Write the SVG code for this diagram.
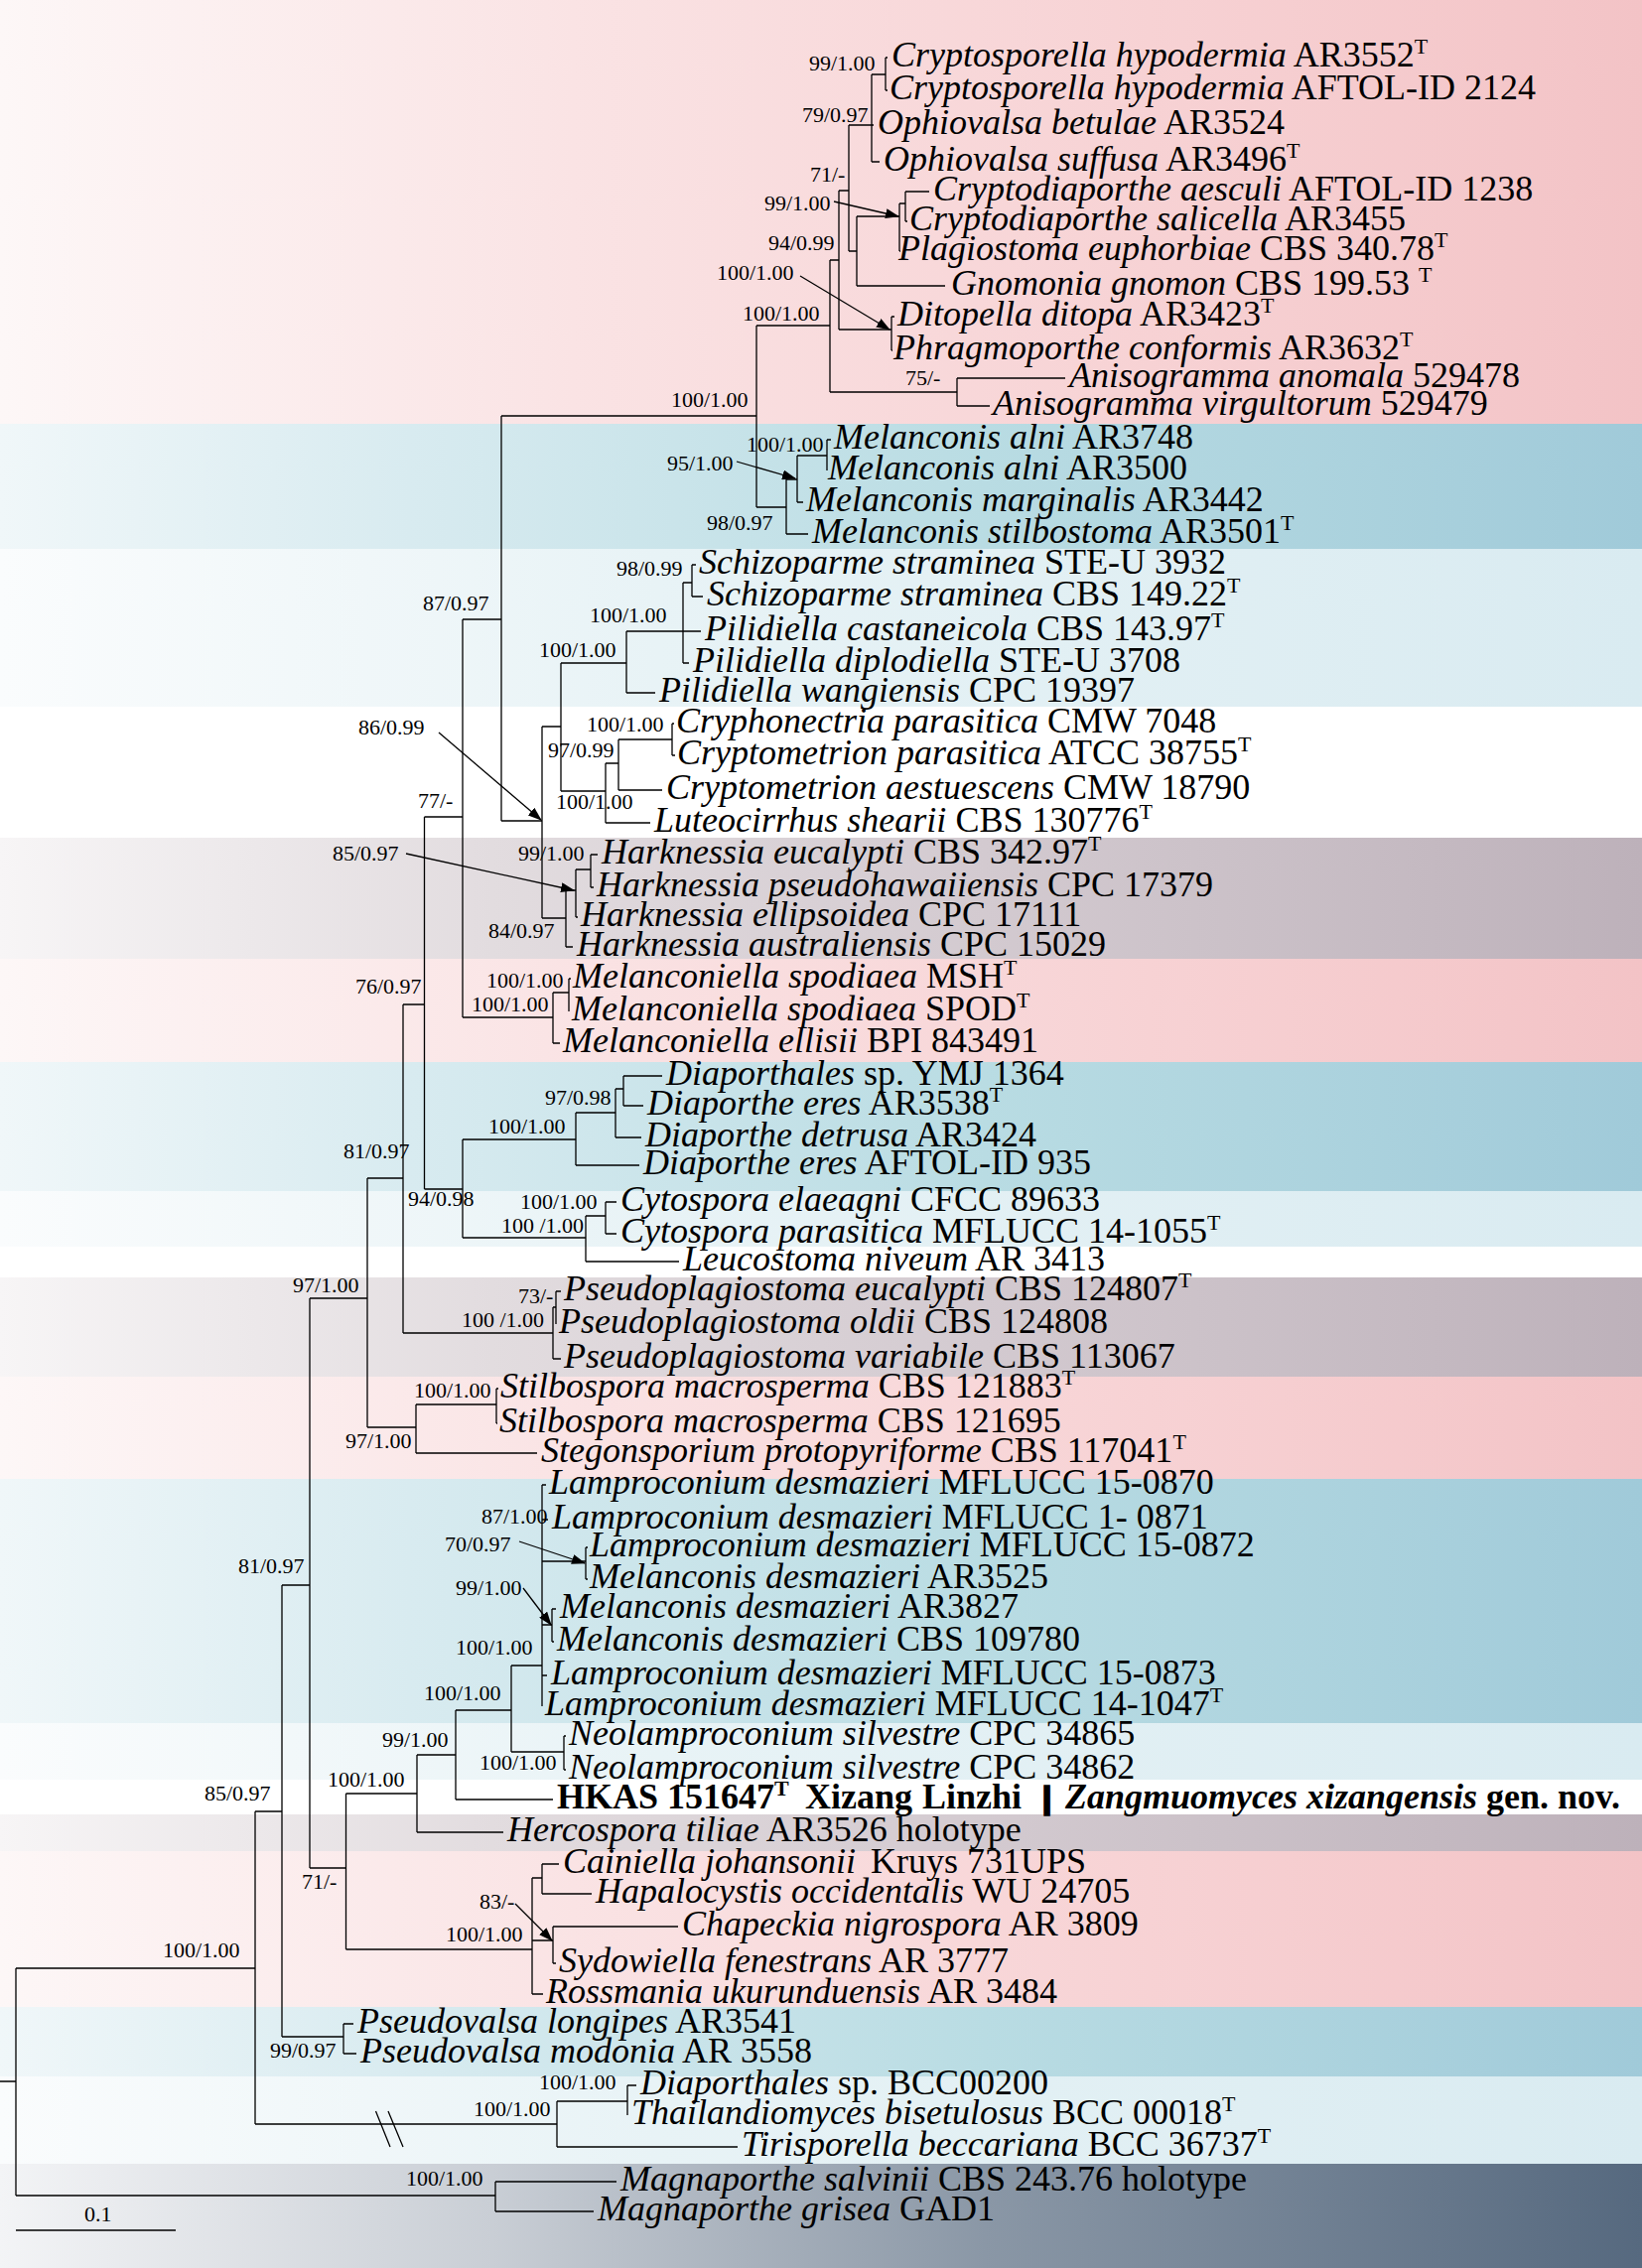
<svg xmlns="http://www.w3.org/2000/svg" width="1654" height="2285" viewBox="0 0 1654 2285">
<style>
.br{fill:none;stroke:#000;stroke-width:1.3}
.ar{fill:none;stroke:#000;stroke-width:1.3;marker-end:url(#ah)}
.tx{font-family:"Liberation Serif","Times New Roman",serif;font-size:36px;fill:#000}
.i{font-style:italic}
.b{font-weight:bold}
.sup{font-size:22px}
.lb{font-family:"Liberation Serif","Times New Roman",serif;font-size:22px;fill:#000}
</style>
<defs>
<marker id="ah" markerWidth="14" markerHeight="10" refX="13" refY="5" orient="auto" markerUnits="userSpaceOnUse"><path d="M0 0L14 5L0 10z" fill="#000"/></marker>
<linearGradient id="gPink" x1="0" y1="0" x2="1654" y2="0" gradientUnits="userSpaceOnUse"><stop offset="0" stop-color="#fdf7f7"/><stop offset="0.35" stop-color="#fae3e4"/><stop offset="0.7" stop-color="#f7d2d4"/><stop offset="1" stop-color="#f3c3c6"/></linearGradient>
<linearGradient id="gTeal" x1="0" y1="0" x2="1654" y2="0" gradientUnits="userSpaceOnUse"><stop offset="0" stop-color="#f0f7f9"/><stop offset="0.25" stop-color="#d8ebf0"/><stop offset="0.6" stop-color="#b9dce3"/><stop offset="1" stop-color="#a0cad9"/></linearGradient>
<linearGradient id="gLight" x1="0" y1="0" x2="1654" y2="0" gradientUnits="userSpaceOnUse"><stop offset="0" stop-color="#fafcfd"/><stop offset="0.4" stop-color="#e8f3f6"/><stop offset="1" stop-color="#d9ebf1"/></linearGradient>
<linearGradient id="gMauve" x1="0" y1="0" x2="1654" y2="0" gradientUnits="userSpaceOnUse"><stop offset="0" stop-color="#f7f5f6"/><stop offset="0.3" stop-color="#e2dcdf"/><stop offset="0.6" stop-color="#d3cad0"/><stop offset="1" stop-color="#bdb1ba"/></linearGradient>
<linearGradient id="gSlate" x1="0" y1="0" x2="1654" y2="0" gradientUnits="userSpaceOnUse"><stop offset="0" stop-color="#f3f4f6"/><stop offset="0.3" stop-color="#c9ced5"/><stop offset="0.6" stop-color="#8a97a6"/><stop offset="1" stop-color="#56697f"/></linearGradient>
</defs>
<g id="bands">
<rect x="0" y="0" width="1654" height="2285" fill="#fff"/>
<rect x="0" y="0" width="1654" height="427" fill="url(#gPink)"/>
<rect x="0" y="427" width="1654" height="126" fill="url(#gTeal)"/>
<rect x="0" y="553" width="1654" height="159" fill="url(#gLight)"/>
<rect x="0" y="844" width="1654" height="122" fill="url(#gMauve)"/>
<rect x="0" y="966" width="1654" height="104" fill="url(#gPink)"/>
<rect x="0" y="1070" width="1654" height="130" fill="url(#gTeal)"/>
<rect x="0" y="1200" width="1654" height="56" fill="url(#gLight)"/>
<rect x="0" y="1287" width="1654" height="100" fill="url(#gMauve)"/>
<rect x="0" y="1387" width="1654" height="103" fill="url(#gPink)"/>
<rect x="0" y="1490" width="1654" height="246" fill="url(#gTeal)"/>
<rect x="0" y="1736" width="1654" height="57" fill="url(#gLight)"/>
<rect x="0" y="1828" width="1654" height="37" fill="url(#gMauve)"/>
<rect x="0" y="1865" width="1654" height="157" fill="url(#gPink)"/>
<rect x="0" y="2022" width="1654" height="70" fill="url(#gTeal)"/>
<rect x="0" y="2092" width="1654" height="88" fill="url(#gLight)"/>
<rect x="0" y="2180" width="1654" height="105" fill="url(#gSlate)"/>
</g>
<g id="connectors">
<path class="br" d="M892 58V91M892 58H894M892 91H894"/>
<path class="br" d="M878 75V163M878 75H892M878 126H880M878 163H886"/>
<path class="br" d="M855 126V253M855 126H878M855 253H863"/>
<path class="br" d="M863 218V288M863 218H906M863 288H952"/>
<path class="br" d="M906 205V253M906 205H912M906 253H907"/>
<path class="br" d="M912 193V223M912 193H936M912 223H914"/>
<path class="br" d="M845 192V332M845 192H855M845 332H898"/>
<path class="br" d="M898 319V353M898 319H901M898 353H899"/>
<path class="br" d="M836 262V395M836 262H845M836 395H964"/>
<path class="br" d="M964 381V409M964 381H1073M964 409H997"/>
<path class="br" d="M762 328V511M762 328H836M762 511H792"/>
<path class="br" d="M833 443V474M833 443H837"/>
<path class="br" d="M803 459V506M803 459H833M803 506H809"/>
<path class="br" d="M792 483V538M792 483H803M792 538H814"/>
<path class="br" d="M505 419V827M505 419H762M505 827H546"/>
<path class="br" d="M697 569V601M697 569H701M697 601H708"/>
<path class="br" d="M688 587V668M688 587H697M688 636H706M688 668H694"/>
<path class="br" d="M631 636V698M631 636H688M631 698H660"/>
<path class="br" d="M677 729V761M677 729H679M677 761H680"/>
<path class="br" d="M623 745V796M623 745H677M623 796H667"/>
<path class="br" d="M610 769V829M610 769H623M610 829H655"/>
<path class="br" d="M565 668V797M565 668H631M565 797H610"/>
<path class="br" d="M595 861V894M595 861H602M595 894H598"/>
<path class="br" d="M580 876V924M580 876H595M580 924H582"/>
<path class="br" d="M570 897V954M570 897H580M570 954H577"/>
<path class="br" d="M546 732V925M546 732H565M546 925H570"/>
<path class="br" d="M466 624V1025M466 624H505M466 1025H557"/>
<path class="br" d="M573 986V1019M573 986H575"/>
<path class="br" d="M557 1000V1051M557 1000H573M557 1051H564"/>
<path class="br" d="M628 1084V1114M628 1084H667M628 1114H648"/>
<path class="br" d="M620 1097V1146M620 1097H628M620 1146H646"/>
<path class="br" d="M580 1121V1174M580 1121H620M580 1174H644"/>
<path class="br" d="M610 1211V1243M610 1211H621M610 1243H621"/>
<path class="br" d="M590 1225V1271M590 1225H610M590 1271H684"/>
<path class="br" d="M466 1148V1247M466 1148H580M466 1247H590"/>
<path class="br" d="M427.5 823V1198M427.5 823H466M427.5 1198H466"/>
<path class="br" d="M560 1301V1334M560 1301H565"/>
<path class="br" d="M557 1317V1369M557 1317H560M557 1369H565"/>
<path class="br" d="M406 1012V1343M406 1012H427.5M406 1343H557"/>
<path class="br" d="M500 1399V1434M500 1399H502M500 1434H501"/>
<path class="br" d="M419 1415V1464M419 1415H500M419 1464H541"/>
<path class="br" d="M370 1187V1438M370 1187H406M370 1438H419"/>
<path class="br" d="M590 1559V1591M590 1559H592M590 1591H592"/>
<path class="br" d="M556 1621V1654M556 1621H560M556 1654H558"/>
<path class="br" d="M546 1496V1719M546 1496H550M546 1531H552M546 1573H590M546 1637H556M546 1688H551"/>
<path class="br" d="M568 1749V1783M568 1749H570M568 1783H570"/>
<path class="br" d="M515 1678V1765M515 1678H546M515 1765H568"/>
<path class="br" d="M459 1723V1813M459 1723H515M459 1813H557"/>
<path class="br" d="M420 1768V1846M420 1768H459M420 1846H507"/>
<path class="br" d="M546 1878V1908M546 1878H563M546 1908H596"/>
<path class="br" d="M557 1941V1978M557 1941H683M557 1978H560"/>
<path class="br" d="M536 1892V2009M536 1892H546M536 1955H557M536 2009H547"/>
<path class="br" d="M348.5 1807V1964M348.5 1807H420M348.5 1964H536"/>
<path class="br" d="M312 1308V1882M312 1308H370M312 1882H348.5"/>
<path class="br" d="M346 2039V2069M346 2039H356M346 2069H359"/>
<path class="br" d="M284 1597V2052M284 1597H312M284 2052H346"/>
<path class="br" d="M632 2101V2131M632 2101H641"/>
<path class="br" d="M561 2117V2163M561 2117H632M561 2163H743"/>
<path class="br" d="M257 1825V2140M257 1825H284M257 2140H561"/>
<path class="br" d="M499 2198V2228M499 2198H621M499 2228H598"/>
<path class="br" d="M16 1983V2212M16 1983H257M16 2212H499M0 2097H16"/>
<path class="br" d="M378.5 2127L393 2163M391 2127L406 2163"/>
<path class="br" d="M16 2247H177"/>
<path class="ar" d="M840 203L905 218"/>
<path class="ar" d="M806 278L896 332"/>
<path class="ar" d="M742 465L801 482"/>
<path class="ar" d="M442 738L545 826"/>
<path class="ar" d="M409 860L578 897"/>
<path class="ar" d="M523 1553L589 1575"/>
<path class="ar" d="M527 1600L555 1637"/>
<path class="ar" d="M519 1918L556 1955"/>
</g>
<g id="supports" class="lb">
<text x="815" y="71">99/1.00</text>
<text x="808" y="123">79/0.97</text>
<text x="816" y="183">71/-</text>
<text x="770" y="212">99/1.00</text>
<text x="774" y="252">94/0.99</text>
<text x="722" y="282">100/1.00</text>
<text x="748" y="323">100/1.00</text>
<text x="912" y="388">75/-</text>
<text x="676" y="410">100/1.00</text>
<text x="752" y="455">100/1.00</text>
<text x="672" y="474">95/1.00</text>
<text x="712" y="534">98/0.97</text>
<text x="621" y="580">98/0.99</text>
<text x="426" y="615">87/0.97</text>
<text x="594" y="627">100/1.00</text>
<text x="543" y="662">100/1.00</text>
<text x="361" y="740">86/0.99</text>
<text x="591" y="737">100/1.00</text>
<text x="552" y="763">97/0.99</text>
<text x="560" y="815">100/1.00</text>
<text x="421" y="814">77/-</text>
<text x="335" y="867">85/0.97</text>
<text x="522" y="867">99/1.00</text>
<text x="492" y="945">84/0.97</text>
<text x="358" y="1001">76/0.97</text>
<text x="490" y="995">100/1.00</text>
<text x="475" y="1019">100/1.00</text>
<text x="549" y="1113">97/0.98</text>
<text x="492" y="1142">100/1.00</text>
<text x="346" y="1167">81/0.97</text>
<text x="411" y="1215">94/0.98</text>
<text x="524" y="1218">100/1.00</text>
<text x="505" y="1242">100 /1.00</text>
<text x="295" y="1302">97/1.00</text>
<text x="522" y="1313">73/-</text>
<text x="465" y="1337">100 /1.00</text>
<text x="417" y="1408">100/1.00</text>
<text x="348" y="1459">97/1.00</text>
<text x="485" y="1535">87/1.00</text>
<text x="448" y="1563">70/0.97</text>
<text x="240" y="1585">81/0.97</text>
<text x="459" y="1607">99/1.00</text>
<text x="459" y="1667">100/1.00</text>
<text x="427" y="1713">100/1.00</text>
<text x="385" y="1760">99/1.00</text>
<text x="483" y="1783">100/1.00</text>
<text x="330" y="1800">100/1.00</text>
<text x="206" y="1814">85/0.97</text>
<text x="304" y="1903">71/-</text>
<text x="483" y="1923">83/-</text>
<text x="449" y="1956">100/1.00</text>
<text x="164" y="1972">100/1.00</text>
<text x="272" y="2073">99/0.97</text>
<text x="543" y="2105">100/1.00</text>
<text x="477" y="2132">100/1.00</text>
<text x="409" y="2202">100/1.00</text>
<text x="85" y="2238">0.1</text>
</g>
<g id="tips" class="tx">
<g id="t01"><text x="898" y="67"><tspan class="i">Cryptosporella hypodermia</tspan> AR3552<tspan class="sup" dy="-13">T</tspan></text></g>
<g id="t02"><text x="896" y="100"><tspan class="i">Cryptosporella hypodermia</tspan> AFTOL-ID 2124</text></g>
<g id="t03"><text x="884" y="135"><tspan class="i">Ophiovalsa betulae</tspan> AR3524</text></g>
<g id="t04"><text x="890" y="172"><tspan class="i">Ophiovalsa suffusa</tspan> AR3496<tspan class="sup" dy="-13">T</tspan></text></g>
<g id="t05"><text x="940" y="202"><tspan class="i">Cryptodiaporthe aesculi</tspan> AFTOL-ID 1238</text></g>
<g id="t06"><text x="916" y="232"><tspan class="i">Cryptodiaporthe salicella</tspan> AR3455</text></g>
<g id="t07"><text x="905" y="262"><tspan class="i">Plagiostoma euphorbiae</tspan> CBS 340.78<tspan class="sup" dy="-13">T</tspan></text></g>
<g id="t08"><text x="958" y="297"><tspan class="i">Gnomonia gnomon</tspan> CBS 199.53 <tspan class="sup" dy="-13">T</tspan></text></g>
<g id="t09"><text x="904" y="328"><tspan class="i">Ditopella ditopa</tspan> AR3423<tspan class="sup" dy="-13">T</tspan></text></g>
<g id="t10"><text x="900" y="362"><tspan class="i">Phragmoporthe conformis</tspan> AR3632<tspan class="sup" dy="-13">T</tspan></text></g>
<g id="t11"><text x="1077" y="390"><tspan class="i">Anisogramma anomala</tspan> 529478</text></g>
<g id="t12"><text x="1000" y="418"><tspan class="i">Anisogramma virgultorum</tspan> 529479</text></g>
<g id="t13"><text x="840" y="452"><tspan class="i">Melanconis alni</tspan> AR3748</text></g>
<g id="t14"><text x="834" y="483"><tspan class="i">Melanconis alni</tspan> AR3500</text></g>
<g id="t15"><text x="812" y="515"><tspan class="i">Melanconis marginalis</tspan> AR3442</text></g>
<g id="t16"><text x="818" y="547"><tspan class="i">Melanconis stilbostoma</tspan> AR3501<tspan class="sup" dy="-13">T</tspan></text></g>
<g id="t17"><text x="704" y="578"><tspan class="i">Schizoparme straminea</tspan> STE-U 3932</text></g>
<g id="t18"><text x="712" y="610"><tspan class="i">Schizoparme straminea</tspan> CBS 149.22<tspan class="sup" dy="-13">T</tspan></text></g>
<g id="t19"><text x="710" y="645"><tspan class="i">Pilidiella castaneicola</tspan> CBS 143.97<tspan class="sup" dy="-13">T</tspan></text></g>
<g id="t20"><text x="698" y="677"><tspan class="i">Pilidiella diplodiella</tspan> STE-U 3708</text></g>
<g id="t21"><text x="664" y="707"><tspan class="i">Pilidiella wangiensis</tspan> CPC 19397</text></g>
<g id="t22"><text x="681" y="738"><tspan class="i">Cryphonectria parasitica</tspan> CMW 7048</text></g>
<g id="t23"><text x="682" y="770"><tspan class="i">Cryptometrion parasitica</tspan> ATCC 38755<tspan class="sup" dy="-13">T</tspan></text></g>
<g id="t24"><text x="671" y="805"><tspan class="i">Cryptometrion aestuescens</tspan> CMW 18790</text></g>
<g id="t25"><text x="659" y="838"><tspan class="i">Luteocirrhus shearii</tspan> CBS 130776<tspan class="sup" dy="-13">T</tspan></text></g>
<g id="t26"><text x="606" y="870"><tspan class="i">Harknessia eucalypti</tspan> CBS 342.97<tspan class="sup" dy="-13">T</tspan></text></g>
<g id="t27"><text x="601" y="903"><tspan class="i">Harknessia pseudohawaiiensis</tspan> CPC 17379</text></g>
<g id="t28"><text x="585" y="933"><tspan class="i">Harknessia ellipsoidea</tspan> CPC 17111</text></g>
<g id="t29"><text x="581" y="963"><tspan class="i">Harknessia australiensis</tspan> CPC 15029</text></g>
<g id="t30"><text x="577" y="995"><tspan class="i">Melanconiella spodiaea</tspan> MSH<tspan class="sup" dy="-13">T</tspan></text></g>
<g id="t31"><text x="576" y="1028"><tspan class="i">Melanconiella spodiaea</tspan> SPOD<tspan class="sup" dy="-13">T</tspan></text></g>
<g id="t32"><text x="567" y="1060"><tspan class="i">Melanconiella ellisii</tspan> BPI 843491</text></g>
<g id="t33"><text x="671" y="1093"><tspan class="i">Diaporthales</tspan> sp. YMJ 1364</text></g>
<g id="t34"><text x="652" y="1123"><tspan class="i">Diaporthe eres</tspan> AR3538<tspan class="sup" dy="-13">T</tspan></text></g>
<g id="t35"><text x="650" y="1155"><tspan class="i">Diaporthe detrusa</tspan> AR3424</text></g>
<g id="t36"><text x="648" y="1183"><tspan class="i">Diaporthe eres</tspan> AFTOL-ID 935</text></g>
<g id="t37"><text x="625" y="1220"><tspan class="i">Cytospora elaeagni</tspan> CFCC 89633</text></g>
<g id="t38"><text x="625" y="1252"><tspan class="i">Cytospora parasitica</tspan> MFLUCC 14-1055<tspan class="sup" dy="-13">T</tspan></text></g>
<g id="t39"><text x="688" y="1280"><tspan class="i">Leucostoma niveum</tspan> AR 3413</text></g>
<g id="t40"><text x="568" y="1310"><tspan class="i">Pseudoplagiostoma eucalypti</tspan> CBS 124807<tspan class="sup" dy="-13">T</tspan></text></g>
<g id="t41"><text x="563" y="1343"><tspan class="i">Pseudoplagiostoma oldii</tspan> CBS 124808</text></g>
<g id="t42"><text x="568" y="1378"><tspan class="i">Pseudoplagiostoma variabile</tspan> CBS 113067</text></g>
<g id="t43"><text x="504" y="1408"><tspan class="i">Stilbospora macrosperma</tspan> CBS 121883<tspan class="sup" dy="-13">T</tspan></text></g>
<g id="t44"><text x="503" y="1443"><tspan class="i">Stilbospora macrosperma</tspan> CBS 121695</text></g>
<g id="t45"><text x="545" y="1473"><tspan class="i">Stegonsporium protopyriforme</tspan> CBS 117041<tspan class="sup" dy="-13">T</tspan></text></g>
<g id="t46"><text x="553" y="1505"><tspan class="i">Lamproconium desmazieri</tspan> MFLUCC 15-0870</text></g>
<g id="t47"><text x="556" y="1540"><tspan class="i">Lamproconium desmazieri</tspan> MFLUCC 1- 0871</text></g>
<g id="t48"><text x="594" y="1568"><tspan class="i">Lamproconium desmazieri</tspan> MFLUCC 15-0872</text></g>
<g id="t49"><text x="594" y="1600"><tspan class="i">Melanconis desmazieri</tspan> AR3525</text></g>
<g id="t50"><text x="564" y="1630"><tspan class="i">Melanconis desmazieri</tspan> AR3827</text></g>
<g id="t51"><text x="561" y="1663"><tspan class="i">Melanconis desmazieri</tspan> CBS 109780</text></g>
<g id="t52"><text x="555" y="1697"><tspan class="i">Lamproconium desmazieri</tspan> MFLUCC 15-0873</text></g>
<g id="t53"><text x="549" y="1728"><tspan class="i">Lamproconium desmazieri</tspan> MFLUCC 14-1047<tspan class="sup" dy="-13">T</tspan></text></g>
<g id="t54"><text x="573" y="1758"><tspan class="i">Neolamproconium silvestre</tspan> CPC 34865</text></g>
<g id="t55"><text x="573" y="1792"><tspan class="i">Neolamproconium silvestre</tspan> CPC 34862</text></g>
<g id="t56" class="b"><text x="561" y="1822">HKAS 151647<tspan class="sup" dy="-13">T</tspan><tspan x="811" dy="13">Xizang</tspan><tspan x="929">Linzhi</tspan></text><text x="1042" y="1822" style="font-family:'DejaVu Sans',sans-serif;font-size:30px;stroke:#000;stroke-width:1.6">❙</text><text x="1073" y="1822"><tspan class="i">Zangmuomyces xizangensis</tspan> gen. nov.</text></g>
<g id="t57"><text x="511" y="1855"><tspan class="i">Hercospora tiliae</tspan> AR3526 holotype</text></g>
<g id="t58"><text x="567" y="1887"><tspan class="i">Cainiella johansonii</tspan> <tspan dx="6">Kruys 731UPS</tspan></text></g>
<g id="t59"><text x="600" y="1917"><tspan class="i">Hapalocystis occidentalis</tspan> WU 24705</text></g>
<g id="t60"><text x="687" y="1950"><tspan class="i">Chapeckia nigrospora</tspan> AR 3809</text></g>
<g id="t61"><text x="563" y="1987"><tspan class="i">Sydowiella fenestrans</tspan> AR 3777</text></g>
<g id="t62"><text x="550" y="2018"><tspan class="i">Rossmania ukurunduensis</tspan> AR 3484</text></g>
<g id="t63"><text x="360" y="2048"><tspan class="i">Pseudovalsa longipes</tspan> AR3541</text></g>
<g id="t64"><text x="363" y="2078"><tspan class="i">Pseudovalsa modonia</tspan> AR 3558</text></g>
<g id="t65"><text x="645" y="2110"><tspan class="i">Diaporthales</tspan> sp. BCC00200</text></g>
<g id="t66"><text x="636" y="2140"><tspan class="i">Thailandiomyces bisetulosus</tspan> BCC 00018<tspan class="sup" dy="-13">T</tspan></text></g>
<g id="t67"><text x="747" y="2172"><tspan class="i">Tirisporella beccariana</tspan> BCC 36737<tspan class="sup" dy="-13">T</tspan></text></g>
<g id="t68"><text x="625" y="2207"><tspan class="i">Magnaporthe salvinii</tspan> CBS 243.76 holotype</text></g>
<g id="t69"><text x="602" y="2237"><tspan class="i">Magnaporthe grisea</tspan> GAD1</text></g>
</g>
</svg>
